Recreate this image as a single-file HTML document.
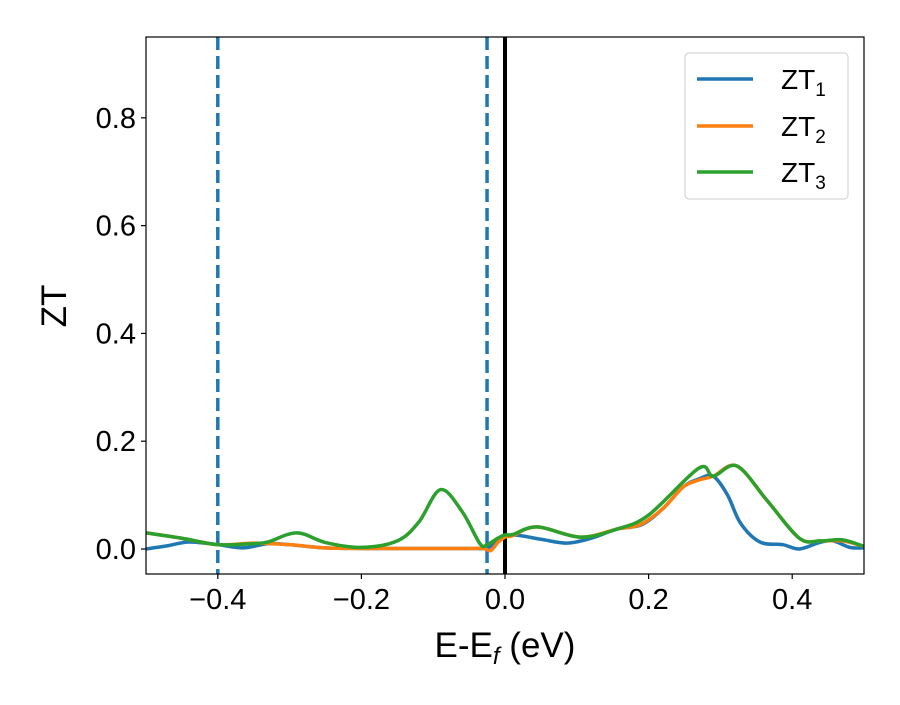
<!DOCTYPE html>
<html><head><meta charset="utf-8"><style>
body{margin:0;background:#fff;}
svg text{font-family:"Liberation Sans","DejaVu Sans",sans-serif;}
</style></head><body>
<svg id="chart" width="900" height="700" xmlns="http://www.w3.org/2000/svg">
<g id="plot"></g>
<g>
<text x="505" y="657" font-size="35" text-anchor="middle">E-E<tspan font-style="italic" font-size="24" dy="7">f</tspan><tspan dy="-7"> (eV)</tspan></text>
<text transform="translate(66,306) rotate(-90)" font-size="35" text-anchor="middle">ZT</text>
</g>
<g id="legend">
<rect x="685" y="53" width="163" height="146" rx="4" fill="#fff" stroke="#ccc" stroke-width="1"/>
<g><line x1="697" x2="753" y1="79" y2="79" stroke="#1f77b4" stroke-width="3.5"/><text x="781" y="89" font-size="28">ZT<tspan font-size="19" dy="7">1</tspan></text></g>
<g><line x1="697" x2="753" y1="126" y2="126" stroke="#ff7f0e" stroke-width="3.5"/><text x="781" y="136" font-size="28">ZT<tspan font-size="19" dy="7">2</tspan></text></g>
<g><line x1="697" x2="753" y1="172" y2="172" stroke="#2ca02c" stroke-width="3.5"/><text x="781" y="182" font-size="28">ZT<tspan font-size="19" dy="7">3</tspan></text></g>
</g>
</svg>
<script>
const xTicks=[-0.4,-0.2,0.0,0.2,0.4];
const xTickLabels=["\u22120.4","\u22120.2","0.0","0.2","0.4"];
const yTicks=[0.0,0.2,0.4,0.6,0.8];
const yTickLabels=["0.0","0.2","0.4","0.6","0.8"];
const vDashed=[-0.4,-0.025];
const vSolid=[0.0];
const zt1X=[-0.5,-0.47,-0.44,-0.4,-0.365,-0.33,-0.3,-0.25,-0.2,-0.15,-0.1,-0.05,-0.025,-0.01,0.011,0.05,0.086,0.12,0.156,0.19,0.22,0.248,0.27,0.29,0.31,0.328,0.355,0.387,0.41,0.438,0.457,0.48,0.5];
const zt1Y=[0.0,0.006,0.013,0.008,0.002,0.01,0.008,0.002,0.001,0.001,0.001,0.001,0.002,0.015,0.026,0.018,0.011,0.02,0.037,0.045,0.075,0.115,0.13,0.135,0.1,0.048,0.013,0.008,0.0,0.012,0.015,0.003,0.002];
const zt2X=[-0.5,-0.45,-0.4,-0.35,-0.3,-0.25,-0.2,-0.15,-0.1,-0.05,-0.03,-0.02,-0.01,0.0,0.011,0.045,0.105,0.156,0.188,0.22,0.248,0.27,0.29,0.323,0.365,0.41,0.44,0.47,0.5];
const zt2Y=[0.03,0.02,0.008,0.011,0.008,0.002,0.001,0.001,0.001,0.001,0.001,-0.003,0.012,0.022,0.025,0.041,0.022,0.037,0.045,0.075,0.115,0.128,0.135,0.154,0.09,0.02,0.015,0.015,0.005];
const zt3X=[-0.5,-0.45,-0.4,-0.35,-0.33,-0.29,-0.25,-0.2,-0.15,-0.12,-0.09,-0.06,-0.035,-0.025,-0.01,0.0,0.011,0.045,0.105,0.156,0.2,0.27,0.29,0.323,0.365,0.41,0.44,0.47,0.5];
const zt3Y=[0.03,0.02,0.008,0.01,0.013,0.03,0.012,0.003,0.015,0.05,0.11,0.07,0.01,0.008,0.02,0.026,0.027,0.041,0.022,0.037,0.063,0.15,0.135,0.154,0.09,0.02,0.015,0.017,0.005];

const L=146,R=864,T=37,B=574;
const xMin=-0.5,xMax=0.5,yMin=-0.0464,yMax=0.95;
const sx=v=>L+(v-xMin)/(xMax-xMin)*(R-L);
const sy=v=>B-(v-yMin)/(yMax-yMin)*(B-T);
const NS="http://www.w3.org/2000/svg";
const g=document.getElementById('plot');
function mk(tag,attrs){const e=document.createElementNS(NS,tag);for(const k in attrs)e.setAttribute(k,attrs[k]);g.appendChild(e);return e;}
function path(xs,ys){
  const p=xs.map((x,i)=>[sx(x),sy(ys[i])]);
  let d=`M${p[0][0]},${p[0][1]}`;
  for(let i=0;i<p.length-1;i++){
    const p0=p[i-1]||p[i],p1=p[i],p2=p[i+1],p3=p[i+2]||p2;
    const c1=[p1[0]+(p2[0]-p0[0])/6,p1[1]+(p2[1]-p0[1])/6];
    const c2=[p2[0]-(p3[0]-p1[0])/6,p2[1]-(p3[1]-p1[1])/6];
    d+=`C${c1[0]},${c1[1]} ${c2[0]},${c2[1]} ${p2[0]},${p2[1]}`;
  }
  return d;
}
const clip=mk('clipPath',{id:'cp'});
const cr=document.createElementNS(NS,'rect');cr.setAttribute('x',L);cr.setAttribute('y',T);cr.setAttribute('width',R-L);cr.setAttribute('height',B-T);clip.appendChild(cr);

vDashed.forEach(v=>{const e=mk('line',{x1:sx(v),x2:sx(v),y1:T,y2:B,stroke:'#1f77b4','stroke-width':3.5,'stroke-dasharray':'13,6'});

});
vSolid.forEach(v=>{const e=mk('line',{x1:sx(v),x2:sx(v),y1:T,y2:B,stroke:'#000','stroke-width':4});

});

const series=[[zt1X,zt1Y,'#1f77b4','zt1-line'],[zt2X,zt2Y,'#ff7f0e','zt2-line'],[zt3X,zt3Y,'#2ca02c','zt3-line']];
series.forEach(s=>{const e=mk('path',{d:path(s[0],s[1]),fill:'none',stroke:s[2],'stroke-width':3.5,'clip-path':'url(#cp)'});

});

const fr=mk('rect',{x:L,y:T,width:R-L,height:B-T,fill:'none',stroke:'#000','stroke-width':1.2});



xTicks.forEach((v,i)=>{mk('line',{x1:sx(v),x2:sx(v),y1:B,y2:B+5,stroke:'#000','stroke-width':1.2});
const t=mk('text',{x:sx(v),y:B+35,'font-size':29,'text-anchor':'middle'});t.textContent=xTickLabels[i];

});
yTicks.forEach((v,i)=>{mk('line',{x1:L-5,x2:L,y1:sy(v),y2:sy(v),stroke:'#000','stroke-width':1.2});
const t=mk('text',{x:L-10,y:sy(v)+10,'font-size':29,'text-anchor':'end'});t.textContent=yTickLabels[i];

});
</script>
</body></html>
